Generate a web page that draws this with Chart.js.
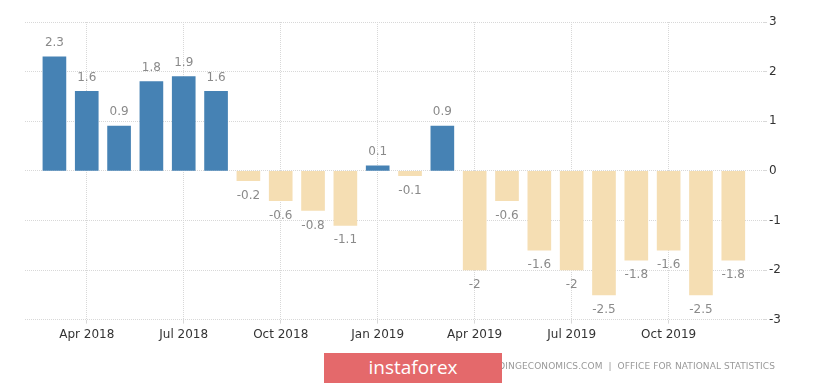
<!DOCTYPE html>
<html>
<head>
<meta charset="utf-8">
<script src="https://cdn.jsdelivr.net/npm/chart.js@4"></script>
<style>
  body { margin: 0; background: #fff; }
  #wrap { position: relative; width: 825px; height: 384px; overflow: hidden; }
  #source {
    position: absolute; right: 50px; top: 361px;
    font-family: "DejaVu Sans", sans-serif; font-size: 9px; color: #999;
    letter-spacing: 0.1px; white-space: nowrap;
  }
  #logo {
    position: absolute; left: 324px; top: 353px; width: 178px; height: 30px;
    background: #e4696b; color: #fff; text-align: center;
    font-family: "Open Sans", sans-serif; font-size: 19px; line-height: 29px;
  }
</style>
</head>
<body>
<div id="wrap">
  <canvas id="myChart" width="825" height="384"></canvas>
  <div id="source">TRADINGECONOMICS.COM &nbsp;|&nbsp; OFFICE FOR NATIONAL STATISTICS</div>
  <div id="logo">instaforex</div>
</div>
<script>
// months shown, Mar 2018 .. Dec 2019
let months = [
     "Mar 2018", "Apr 2018", "May 2018", "Jun 2018", "Jul 2018", "Aug 2018",
     "Sep 2018", "Oct 2018", "Nov 2018", "Dec 2018", "Jan 2019", "Feb 2019",
     "Mar 2019", "Apr 2019", "May 2019", "Jun 2019", "Jul 2019", "Aug 2019",
     "Sep 2019", "Oct 2019", "Nov 2019", "Dec 2019",
];
let values = [
     2.3, 1.6, 0.9, 1.8, 1.9, 1.6, -0.2, -0.6, -0.8, -1.1, 0.1, -0.1,
     0.9, -2, -0.6, -1.6, -2, -2.5, -1.8, -1.6, -2.5, -1.8,
];
let tickMonths = ["Apr 2018", "Jul 2018", "Oct 2018", "Jan 2019", "Apr 2019", "Jul 2019", "Oct 2019"];
let yTicks = [-3, -2, -1, 0, 1, 2, 3];

let points = [];
for (let i = 0; i < values.length; i++) {
     points.push({ x: i, y: values[i] });
}
let colors = values.map((v) => (v >= 0 ? "#4682b4" : "#f5deb3"));

// value labels above / below the bars
const barLabels = {
     id: "barLabels",
     afterDatasetsDraw(chart) {
          const ctx = chart.ctx;
          const meta = chart.getDatasetMeta(0);
          ctx.save();
          ctx.font = "12px 'DejaVu Sans', sans-serif";
          ctx.fillStyle = "#8a8a8a";
          ctx.textAlign = "center";
          ctx.textBaseline = "middle";
          meta.data.forEach((bar, i) => {
               const v = values[i];
               const y = v >= 0 ? bar.y - 14 : bar.y + 15;
               ctx.fillText(String(v), bar.x, y);
          });
          ctx.restore();
     },
};

new Chart("myChart", {
     type: "bar",
     data: {
          datasets: [
               {
                    data: points,
                    backgroundColor: colors,
                    barThickness: 23,
               },
          ],
     },
     options: {
          responsive: false,
          animation: false,
          layout: { padding: { left: 25, right: 42, top: 22, bottom: 38 } },
          plugins: { legend: { display: false }, tooltip: { enabled: false } },
          scales: {
               x: {
                    type: "linear",
                    offset: false,
                    min: -0.91,
                    max: 21.92,
                    afterBuildTicks(scale) {
                         scale.ticks = tickMonths.map((m) => ({ value: months.indexOf(m) }));
                    },
                    ticks: {
                         autoSkip: false,
                         maxRotation: 0,
                         color: "#333",
                         font: { family: "DejaVu Sans", size: 12 },
                         padding: 4,
                         callback: (v) => months[v],
                    },
                    grid: { offset: false, color: "#d8d8d8", tickLength: 4 },
                    border: { display: false, dash: [1, 1] },
               },
               y: {
                    position: "right",
                    min: -3,
                    max: 3,
                    afterBuildTicks(scale) {
                         scale.ticks = yTicks.map((v) => ({ value: v }));
                    },
                    ticks: {
                         color: "#333",
                         font: { family: "DejaVu Sans", size: 12 },
                         padding: 2,
                    },
                    grid: { color: "#d8d8d8", tickLength: 4 },
                    border: { display: false, dash: [1, 1] },
               },
          },
     },
     plugins: [barLabels],
});
</script>
</body>
</html>
